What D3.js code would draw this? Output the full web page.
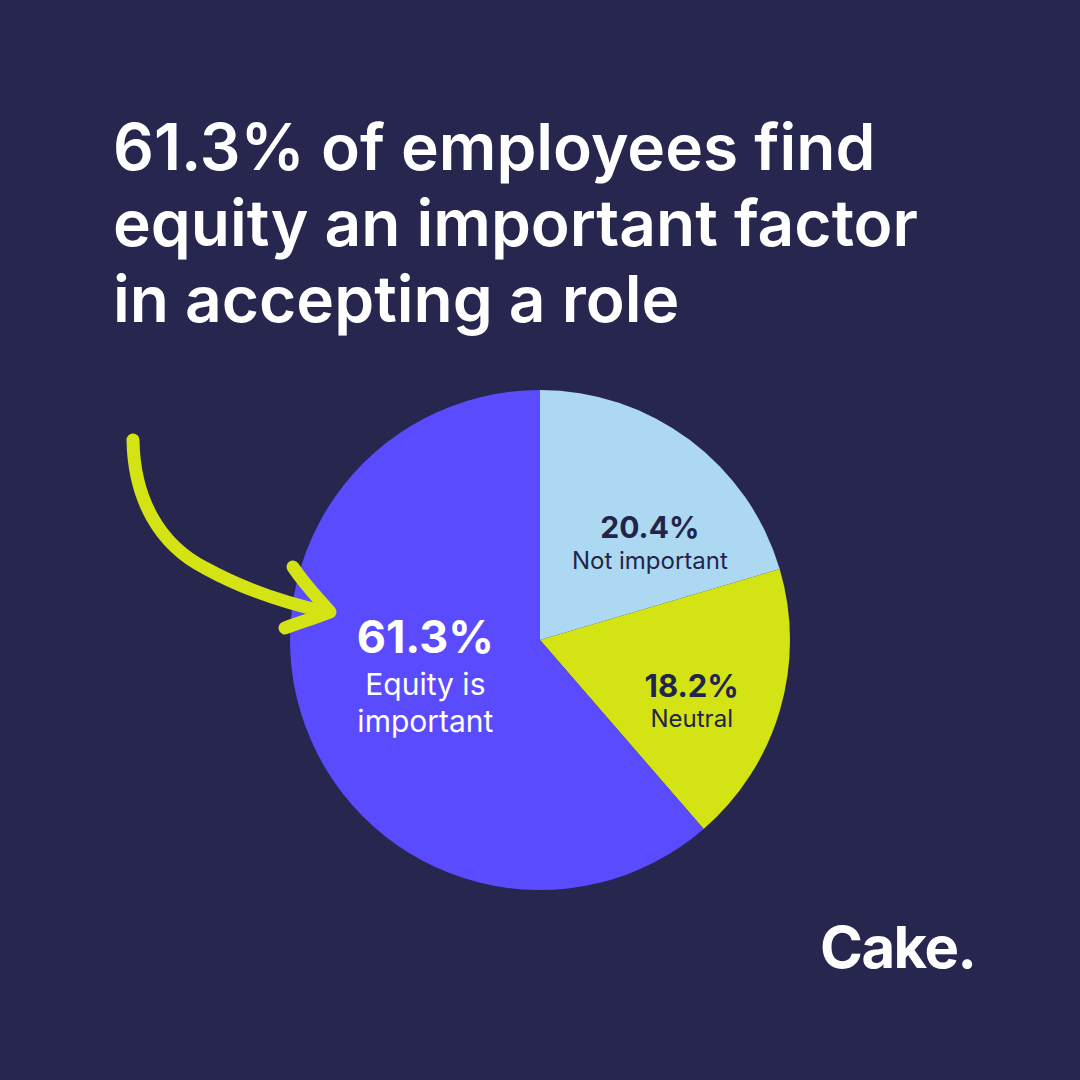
<!DOCTYPE html>
<html>
<head>
<meta charset="utf-8">
<script src="https://cdn.jsdelivr.net/npm/d3@7"></script>
<style>
  html, body { margin: 0; padding: 0; background: #27264f; }
  svg { display: block; font-family: Inter, "Noto Sans", sans-serif; }
</style>
</head>
<body>
<div id="chart"></div>
<script>
// chart data
const titleLines = [
  "61.3% of employees find",
  "equity an important factor",
  "in accepting a role"
];
const categories = ["Not important", "Neutral", "Equity is important"];
const values = [20.4, 18.2, 61.3];
const valueLabels = ["20.4%", "18.2%", "61.3%"];
const sliceColors = ["#acd8f2", "#d4e314", "#5b4bff"];
const textColors = ["#232449", "#232449", "#ffffff"];

const config = {
  width: 1080,
  height: 1080,
  bg: "#27264f",
  cx: 540,
  cy: 640,
  radius: 250,
  accent: "#d4e314"
};

// label anchors: angle (deg, clockwise from 12 o'clock), distance from centre,
// and baseline offsets of the value and the caption lines from that anchor
const labelLayout = {
  "Not important": { angle: 50.7, r: 142, big: 30, small: 24, bigDy: -12, lineDy: 19, lineGap: 0, lines: ["Not important"] },
  "Neutral": { angle: 114.7, r: 167, big: 31, small: 24, bigDy: -13, lineDy: 17, lineGap: 0, lines: ["Neutral"] },
  "Equity is important": { angle: 246.5, r: 125, big: 45, small: 30, bigDy: -37, lineDy: 5, lineGap: 37, lines: ["Equity is", "important"] }
};

const svg = d3.select("#chart")
  .append("svg")
  .attr("width", config.width)
  .attr("height", config.height);

svg.append("rect")
  .attr("width", config.width)
  .attr("height", config.height)
  .attr("fill", config.bg);

// title
svg.append("text")
  .attr("x", 113)
  .attr("y", 170)
  .attr("fill", "#ffffff")
  .style("font-size", "64px")
  .style("font-weight", 600)
  .selectAll("tspan")
  .data(titleLines)
  .enter()
  .append("tspan")
  .attr("x", 113)
  .attr("dy", (d, i) => (i === 0 ? 0 : 76))
  .text((d) => d);

// pie
const data = categories.map((c, i) => ({ category: c, value: values[i], i }));

const pie = d3.pie()
  .sort(null)
  .value((d) => d.value)
  .startAngle(0)
  .endAngle(2 * Math.PI);

const arc = d3.arc().innerRadius(0).outerRadius(config.radius);

const g = svg.append("g")
  .attr("transform", `translate(${config.cx}, ${config.cy})`);

g.selectAll("path")
  .data(pie(data))
  .enter()
  .append("path")
  .attr("d", arc)
  .attr("fill", (d) => sliceColors[d.data.i]);

// labels
const labels = g.selectAll("g.label")
  .data(pie(data))
  .enter()
  .append("g")
  .attr("class", "label")
  .attr("transform", (d) => {
    const l = labelLayout[d.data.category];
    const a = (l.angle * Math.PI) / 180;
    return `translate(${l.r * Math.sin(a)}, ${-l.r * Math.cos(a)})`;
  })
  .attr("text-anchor", "middle");

labels.each(function (d) {
  const l = labelLayout[d.data.category];
  const sel = d3.select(this);
  sel.append("text")
    .attr("y", l.bigDy)
    .attr("fill", textColors[d.data.i])
    .style("font-size", l.big + "px")
    .style("font-weight", 700)
    .text(valueLabels[d.data.i]);
  l.lines.forEach((line, k) => {
    sel.append("text")
      .attr("y", l.lineDy + l.lineGap * k)
      .attr("fill", textColors[d.data.i])
      .style("font-size", l.small + "px")
      .style("font-weight", 400)
      .text(line);
  });
});

// hand-drawn arrow
const arrow = svg.append("g")
  .attr("fill", "none")
  .attr("stroke", config.accent)
  .attr("stroke-linecap", "round")
  .attr("stroke-linejoin", "round");

arrow.append("path")
  .attr("d", "M133,440 C134,500 160,545 205,568 C245,590 285,603 326,612")
  .attr("stroke-width", 13);

arrow.append("path")
  .attr("d", "M293,567 C305,585 318,598 330,612 C315,618 298,623 285,628")
  .attr("stroke-width", 13);

// logo
svg.append("text")
  .attr("x", 820)
  .attr("y", 968)
  .attr("fill", "#ffffff")
  .style("font-size", "58px")
  .style("font-weight", 700)
  .style("letter-spacing", "-1.5px")
  .text("Cake.");
</script>
</body>
</html>
